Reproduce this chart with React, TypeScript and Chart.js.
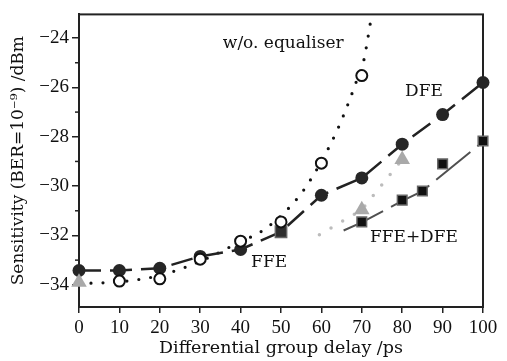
import { useEffect, useRef } from 'react';
import { Chart, registerables } from 'chart.js';

Chart.register(...registerables);

// ---------- data ----------
const X_TICKS = [0, 10, 20, 30, 40, 50, 60, 70, 80, 90, 100];
const Y_TICKS = [-34, -32, -30, -28, -26, -24];
const Y_MINOR = [-33, -31, -29, -27, -25];

// w/o. equaliser measurements (open circles)
const woX = [10, 20, 30, 40, 50, 60, 70];
const woY = [-33.85, -33.76, -32.96, -32.23, -31.45, -29.07, -25.52];
// w/o. equaliser fitted curve (dotted)
const woFitX = [0, 10, 20, 30, 40, 45, 50, 55, 60, 64, 67, 69, 70.5, 71.5, 72.2];
const woFitY = [-33.95, -33.88, -33.62, -33.05, -32.25, -31.85, -31.2, -30.3, -29.0, -27.7, -26.5, -25.6, -24.9, -24.0, -23.3];

// DFE (filled circles, dashed)
const dfeX = [0, 10, 20, 30, 40, 50, 60, 70, 80, 90, 100];
const dfeY = [-33.42, -33.42, -33.33, -32.85, -32.57, -31.85, -30.37, -29.67, -28.3, -27.1, -25.8];

// FFE (grey triangles) and its dotted fit
const ffeX = [0, 70, 80];
const ffeY = [-33.9, -30.96, -28.92];
const ffeFitX = [59.5, 70, 80];
const ffeFitY = [-31.97, -30.96, -28.92];

// FFE+DFE (black squares) and its fit line
const bothX = [50, 70, 80, 85, 90, 100];
const bothY = [-31.85, -31.45, -30.57, -30.2, -29.1, -28.17];
const bothFitX = [65.5, 70, 80, 85, 100];
const bothFitY = [-31.8, -31.47, -30.6, -30.2, -28.2];

const LABELS = [
  { text: 'w/o. equaliser', x: 35.6, y: -24.4 },
  { text: 'DFE', x: 80.7, y: -26.36 },
  { text: 'FFE', x: 42.6, y: -33.28 },
  { text: 'FFE+DFE', x: 72.0, y: -32.27 },
];

const pts = (xs: number[], ys: number[]) => xs.map((x, i) => ({ x, y: ys[i] }));

const SERIF = '"DejaVu Serif", serif';
const TICK_FONT = '"Liberation Serif", serif';

const decorPlugin = {
  id: 'decor',
  beforeDatasetsDraw(chart: any) {
    const { ctx, chartArea } = chart;
    const { left, top, right, bottom } = chartArea;
    ctx.save();
    ctx.strokeStyle = '#222';
    ctx.lineWidth = 2;
    ctx.strokeRect(left, top, right - left, bottom - top);
    // minor y ticks
    const ys = chart.scales.y;
    ctx.lineWidth = 1.5;
    Y_MINOR.forEach((v) => {
      const py = ys.getPixelForValue(v);
      ctx.beginPath();
      ctx.moveTo(left - 4, py);
      ctx.lineTo(left, py);
      ctx.stroke();
    });
    ctx.restore();
  },
  afterDatasetsDraw(chart: any) {
    const { ctx } = chart;
    const xs = chart.scales.x;
    const ys = chart.scales.y;
    ctx.save();
    ctx.fillStyle = '#111';
    ctx.font = `17px ${SERIF}`;
    ctx.textAlign = 'left';
    ctx.textBaseline = 'alphabetic';
    LABELS.forEach((l) => {
      ctx.fillText(l.text, xs.getPixelForValue(l.x), ys.getPixelForValue(l.y));
    });
    ctx.restore();
  },
};

export default function App() {
  const ref = useRef<HTMLCanvasElement | null>(null);

  useEffect(() => {
    if (!ref.current) return;
    const chart = new Chart(ref.current, {
      type: 'scatter',
      data: {
        datasets: [
          {
            label: 'FFE',
            data: pts(ffeX, ffeY),
            pointStyle: 'triangle',
            pointRadius: 9,
            pointBackgroundColor: '#a9a9a9',
            pointBorderColor: '#a9a9a9',
            pointBorderWidth: 0,
            showLine: false,
            clip: false as any,
            order: 1,
          },
          {
            label: 'w/o. equaliser',
            data: pts(woX, woY),
            pointStyle: 'circle',
            pointRadius: 5.5,
            pointBackgroundColor: '#ffffff',
            pointBorderColor: '#111',
            pointBorderWidth: 2,
            showLine: false,
            clip: false as any,
            order: 2,
          },
          {
            label: 'FFE+DFE',
            data: pts(bothX, bothY),
            pointStyle: 'rect',
            pointRadius: [8, 6.8, 6.8, 6.8, 6.8, 6.8],
            pointBackgroundColor: ['#2e2e2e', '#111', '#111', '#111', '#111', '#111'],
            pointBorderColor: '#666',
            pointBorderWidth: 1.5,
            showLine: false,
            clip: false as any,
            order: 3,
          },
          {
            label: 'DFE',
            data: pts(dfeX, dfeY),
            pointStyle: 'circle',
            pointRadius: [6.5, 6.5, 6.5, 6.5, 6.5, 0, 6.5, 6.5, 6.5, 6.5, 6.5],
            pointBackgroundColor: '#262626',
            pointBorderColor: '#262626',
            pointBorderWidth: 0,
            showLine: true,
            borderColor: '#222',
            borderWidth: 2.5,
            borderDash: [22, 9],
            tension: 0,
            clip: false as any,
            order: 4,
          },
          {
            label: 'FFE+DFE fit',
            data: pts(bothFitX, bothFitY),
            pointRadius: 0,
            showLine: true,
            borderColor: '#505050',
            borderWidth: 2,
            borderDash: [44, 9],
            tension: 0,
            order: 5,
          },
          {
            label: 'FFE fit',
            data: pts(ffeFitX, ffeFitY),
            pointRadius: 0,
            showLine: true,
            borderColor: '#bcbcbc',
            borderWidth: 3.5,
            borderDash: [0, 13.5],
            borderCapStyle: 'round',
            tension: 0,
            order: 6,
          },
          {
            label: 'w/o. fit',
            data: pts(woFitX, woFitY),
            pointRadius: 0,
            showLine: true,
            borderColor: '#111',
            borderWidth: 3.2,
            borderDash: [0, 12],
            borderCapStyle: 'round',
            cubicInterpolationMode: 'monotone',
            order: 7,
          },
        ] as any,
      },
      options: {
        responsive: false,
        animation: false,
        events: [],
        layout: { padding: { top: 12, right: 24, left: 0, bottom: 0 } },
        plugins: {
          legend: { display: false },
          tooltip: { enabled: false },
        },
        scales: {
          x: {
            type: 'linear',
            min: 0,
            max: 100,
            afterBuildTicks: (s: any) => {
              s.ticks = X_TICKS.map((v) => ({ value: v }));
            },
            afterFit: (s: any) => {
              s.height = 54;
            },
            ticks: {
              color: '#111',
              font: { family: TICK_FONT, size: 19 },
              padding: 4,
              maxRotation: 0,
              autoSkip: false,
              callback: (v: any) => String(v),
            },
            grid: {
              drawOnChartArea: false,
              drawTicks: true,
              tickLength: 6,
              color: '#222',
              lineWidth: 1.5,
            },
            border: { display: true, color: '#222', width: 2 },
            title: {
              display: true,
              text: 'Differential group delay /ps',
              color: '#111',
              font: { family: SERIF, size: 17.5 },
              padding: { top: 0, bottom: 2 },
            },
          },
          y: {
            type: 'linear',
            min: -34.9,
            max: -23.04,
            afterBuildTicks: (s: any) => {
              s.ticks = Y_TICKS.map((v) => ({ value: v }));
            },
            afterFit: (s: any) => {
              s.width = 79;
            },
            ticks: {
              color: '#111',
              font: { family: TICK_FONT, size: 19 },
              padding: 3,
              autoSkip: false,
              callback: (v: any) => (v < 0 ? '\u2212' + Math.abs(v) : String(v)),
            },
            grid: {
              drawOnChartArea: false,
              drawTicks: true,
              tickLength: 7,
              color: '#222',
              lineWidth: 1.5,
            },
            border: { display: true, color: '#222', width: 2 },
            title: {
              display: true,
              text: 'Sensitivity (BER=10\u207B\u2079) /dBm',
              color: '#111',
              font: { family: SERIF, size: 17 },
              padding: { top: 8, bottom: 0 },
            },
          },
        },
      } as any,
      plugins: [decorPlugin],
    });
    return () => chart.destroy();
  }, []);

  return (
    <div style={{ position: 'absolute', left: 0, top: 0, width: 507, height: 361, background: '#fff' }}>
      <canvas ref={ref} width={507} height={361} style={{ display: 'block' }} />
    </div>
  );
}
